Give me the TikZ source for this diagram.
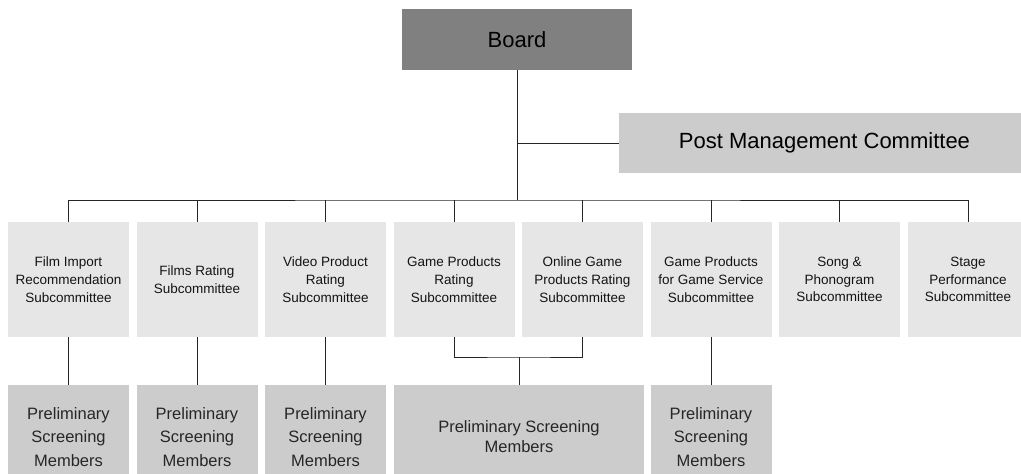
\documentclass[tikz,border=0pt]{standalone}
\usepackage{fontspec}
\setmainfont{Liberation Sans}
\usepackage{tikz}
\usetikzlibrary{positioning, calc}

\definecolor{boardgray}{HTML}{808080}
\definecolor{postgray}{HTML}{CCCCCC}
\definecolor{subgray}{HTML}{E6E6E6}
\definecolor{pregray}{HTML}{CCCCCC}

\tikzset{
  boardbox/.style={fill=boardgray, inner sep=0pt, minimum width=230pt, minimum height=61pt,
    font=\fontsize{22}{26}\selectfont, text=black},
  postbox/.style={fill=postgray, inner sep=0pt, minimum width=411pt, minimum height=60pt,
    font=\fontsize{22}{26}\selectfont, text=black},
  subbox/.style={fill=subgray, inner sep=0pt, minimum width=121pt, minimum height=115pt,
    align=center, font=\fontsize{13.5}{17.7}\selectfont, text=black!92},
  prebox/.style={fill=pregray, inner sep=0pt, minimum width=121pt, minimum height=104pt,
    align=center, font=\fontsize{16.5}{23.5}\selectfont, text=black!85},
  link/.style={draw=black!85, line width=0.8pt}
}

\begin{document}
\begin{tikzpicture}[x=1pt, y=-1pt]
\useasboundingbox (0,0) rectangle (1021,474);

% Top level
\node[boardbox] (board) at (517,39.5) {Board};
\node[postbox] (post) at (824.5,143) {Post Management Committee};

% Subcommittees
\node[subbox] (film)   at (68.5,279.5)  {Film Import\\Recommendation\\Subcommittee};
\node[subbox] (rating) at (197,279.5)   {Films Rating\\Subcommittee};
\node[subbox] (video)  at (325.5,279.5) {Video Product\\Rating\\Subcommittee};
\node[subbox] (game)   at (454,279.5)   {Game Products\\Rating\\Subcommittee};
\node[subbox] (online) at (582.5,279.5) {Online Game\\Products Rating\\Subcommittee};
\node[subbox] (serv)   at (711,279.5)   {Game Products\\for Game Service\\Subcommittee};
\node[subbox] (song)   at (839.5,279.5) {Song \&\\Phonogram\\Subcommittee};
\node[subbox] (stage)  at (968,279.5)   {Stage\\Performance\\Subcommittee};

% Preliminary screening
\node[prebox] (prefilm)   at (68.5,437)  {Preliminary\\Screening\\Members};
\node[prebox] (prerating) at (197,437)   {Preliminary\\Screening\\Members};
\node[prebox] (prevideo)  at (325.5,437) {Preliminary\\Screening\\Members};
\node[prebox, minimum width=250pt, font=\fontsize{16.5}{20}\selectfont]
  (pregame) at (519,437) {Preliminary Screening\\Members};
\node[prebox] (preserv)   at (711,437)   {Preliminary\\Screening\\Members};

% Connectors
\coordinate (bus) at (board.south |- 0,200);
\coordinate (join) at (pregame.north |- 0,357);
\draw[link] (board.south) -- (bus);
\draw[link] (post.west) -- (post.west -| board.south);
\draw[link] (film.north) |- (bus) -| (stage.north);
\draw[link] (rating.north) -- (rating.north |- bus);
\draw[link] (video.north) -- (video.north |- bus);
\draw[link] (game.north) -- (game.north |- bus);
\draw[link] (online.north) -- (online.north |- bus);
\draw[link] (serv.north) -- (serv.north |- bus);
\draw[link] (song.north) -- (song.north |- bus);

\draw[link] (film.south) -- (prefilm.north);
\draw[link] (rating.south) -- (prerating.north);
\draw[link] (video.south) -- (prevideo.north);
\draw[link] (game.south) |- (join) -| (online.south);
\draw[link] (join) -- (pregame.north);
\draw[link] (serv.south) -- (preserv.north);
\end{tikzpicture}
\end{document}
